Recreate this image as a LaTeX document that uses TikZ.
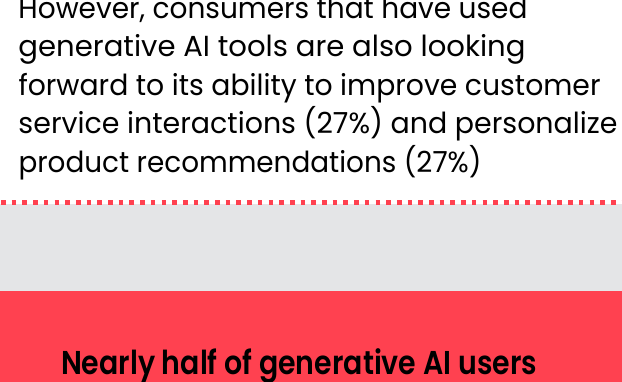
\documentclass[tikz,border=0pt]{standalone}
\usepackage{fontspec}
\usepackage{graphicx}
\setmainfont{Poppins}[BoldFont={Poppins SemiBold}]
\definecolor{brandred}{HTML}{FF4150}
\definecolor{bandgray}{HTML}{E4E5E7}
\tikzset{
  bodyline/.style={anchor=base west, inner sep=0pt, outer sep=0pt, text=black, font=\fontsize{29}{35}\selectfont},
  headline/.style={anchor=base west, inner sep=0pt, outer sep=0pt, text=black, font=\fontsize{33}{40}\selectfont\bfseries},
  dotrule/.style={draw=brandred, line width=4.6pt, dash pattern=on 4.6pt off 6.1pt}
}
\newcommand\fitw[2]{\resizebox{#1pt}{\height}{#2}}
\begin{document}
\begin{tikzpicture}[x=1pt,y=-1pt]
\useasboundingbox (0,0) rectangle (622,382);
\fill[white] (0,0) rectangle (622,382);
\fill[bandgray] (0,204) rectangle (622,291);
\fill[brandred] (0,291) rectangle (622,382);
\coordinate (dl) at (1,202.6);
\coordinate (dr) at (622,202.6);
\draw[dotrule] (dl) -- (dr);
\node[bodyline] (l1) at (18.5,18.5) {\fitw{509}{However, consumers that have used}};
\node[bodyline] (l2) at (18.5,57) {\fitw{507}{generative AI tools are also looking}};
\node[bodyline] (l3) at (18.5,95.5) {\fitw{582}{forward to its ability to improve customer}};
\node[bodyline] (l4) at (18.5,134) {\fitw{599}{service interactions (27\%) and personalize}};
\node[bodyline] (l5) at (18.5,172.5) {\fitw{463}{product recommendations (27\%)}};
\node[headline] (h1) at (61,375) {\fitw{476}{Nearly half of generative AI users}};
\end{tikzpicture}
\end{document}
